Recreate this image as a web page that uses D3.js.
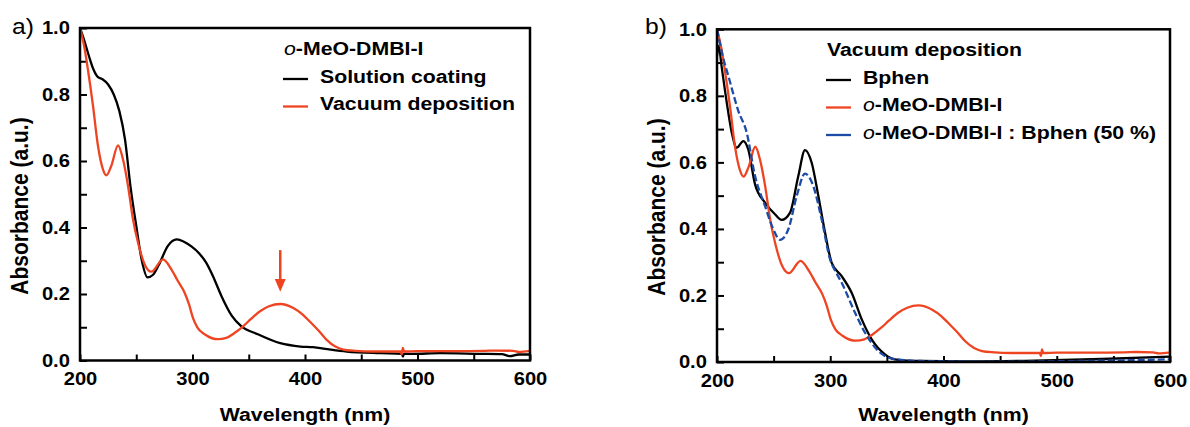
<!DOCTYPE html>
<html>
<head>
<meta charset="utf-8">
<script src="https://cdn.jsdelivr.net/npm/d3@7"></script>
<style>
  body { margin: 0; background: #fff; }
  svg text { font-family: "Liberation Sans", Arial, sans-serif; font-weight: bold; fill: #000; }
  .tick text { font-size: 18px; }
</style>
</head>
<body>
<div id="chart"></div>
<script>
// panel a: o-MeO-DMBI-I, solution coating vs vacuum deposition
const solWl = [200, 204, 208, 212, 216, 220, 225, 230, 235, 240, 245, 250, 255, 260, 265, 270, 278, 286, 292, 299, 306, 312, 318, 326, 335, 343, 358, 378, 396, 407, 420, 437, 467, 486, 487, 488, 496, 520, 556, 575, 582, 590, 600];
const solAbs = [1.0, 0.96, 0.915, 0.875, 0.852, 0.846, 0.83, 0.80, 0.75, 0.665, 0.52, 0.405, 0.30, 0.25, 0.258, 0.287, 0.344, 0.364, 0.358, 0.343, 0.322, 0.295, 0.255, 0.192, 0.134, 0.104, 0.079, 0.052, 0.042, 0.040, 0.034, 0.027, 0.022, 0.020, 0.012, 0.020, 0.020, 0.022, 0.020, 0.019, 0.013, 0.018, 0.018];

const vacWl = [200, 204, 207, 211.6, 216, 220.4, 223.4, 227.8, 233.8, 238.2, 242.7, 247.1, 251.6, 257.5, 263.4, 273.8, 281.2, 287, 293, 297, 300.4, 304.4, 310.8, 322.7, 330, 337, 345, 352, 360, 368, 378, 390, 398, 404, 412, 419, 427, 434, 445, 460, 485, 486, 487, 488, 500, 530, 560, 570, 585, 590, 600];
const vacAbs = [1.0, 0.94, 0.876, 0.765, 0.645, 0.575, 0.557, 0.585, 0.647, 0.605, 0.525, 0.425, 0.354, 0.289, 0.267, 0.304, 0.274, 0.239, 0.204, 0.168, 0.128, 0.099, 0.079, 0.064, 0.068, 0.082, 0.103, 0.125, 0.148, 0.163, 0.170, 0.157, 0.138, 0.118, 0.090, 0.063, 0.042, 0.033, 0.029, 0.027, 0.027, 0.018, 0.038, 0.027, 0.028, 0.028, 0.029, 0.030, 0.029, 0.026, 0.029];

// panel b: vacuum deposition, Bphen and the 50 % blend (o-MeO-DMBI-I reuses vacWl/vacAbs)
const bphenWl = [200, 201.5, 204, 208.6, 213, 217.4, 223.2, 227.6, 233.6, 242.4, 251.2, 257.1, 264.5, 271.8, 277.7, 283.6, 289.5, 295.4, 301.3, 310.1, 318.9, 327.8, 336.6, 348.3, 357, 380, 420, 480, 540, 600];
const bphenAbs = [0.92, 0.95, 0.89, 0.78, 0.69, 0.644, 0.664, 0.639, 0.534, 0.479, 0.444, 0.427, 0.449, 0.559, 0.637, 0.599, 0.499, 0.389, 0.298, 0.258, 0.208, 0.128, 0.068, 0.023, 0.008, 0.003, 0.002, 0.004, 0.009, 0.016];

const mixWl = [200, 205, 210, 218.8, 226.2, 233.6, 242.4, 249.7, 255.6, 263, 270.4, 277.7, 285, 292.4, 299.8, 305, 310.1, 321.9, 330.7, 342.4, 355, 380, 450, 520, 600];
const mixAbs = [1.0, 0.92, 0.86, 0.755, 0.69, 0.559, 0.469, 0.399, 0.367, 0.399, 0.499, 0.566, 0.529, 0.429, 0.309, 0.27, 0.238, 0.148, 0.088, 0.033, 0.01, 0.003, 0.001, 0.003, 0.008];

const xTicks = [200, 250, 300, 350, 400, 450, 500, 550, 600];
const yTicks = [0, 0.1, 0.2, 0.3, 0.4, 0.5, 0.6, 0.7, 0.8, 0.9, 1.0];

const SX = 1.12;   // the reference type is a bit wider than Arial
const orange = '#ee4422';
const blue = '#1d4ca6';

const svg = d3.select('#chart').append('svg')
  .attr('width', 1190)
  .attr('height', 427);

const putText = (g, x, y, size, anchor = 'start') => g.append('text')
  .attr('transform', `translate(${x},${y}) scale(${SX},1)`)
  .attr('font-size', size)
  .attr('text-anchor', anchor);

const italicO = (t, name) => {
  if (name.startsWith('o-')) {
    t.append('tspan').style('font-style', 'italic').style('font-weight', 'normal').text('o');
    t.append('tspan').text(name.slice(1));
  } else t.text(name);
};

const drawPanel = (p) => {
  const x = d3.scaleLinear().domain([200, 600]).range([p.left, p.right]);
  const y = d3.scaleLinear().domain([0, 1]).range([p.bottom, p.top]);
  const g = svg.append('g');

  const xAxis = d3.axisBottom(x)
    .tickValues(xTicks)
    .tickSize(-6).tickSizeOuter(0).tickPadding(12)
    .tickFormat(d => d % 100 === 0 ? d : '');
  const yAxis = d3.axisLeft(y)
    .tickValues(yTicks)
    .tickSize(-7).tickSizeOuter(0).tickPadding(9)
    .tickFormat((d, i) => i % 2 === 0 ? d3.format('.1f')(d) : '');

  [g.append('g').attr('transform', `translate(0,${p.bottom})`).call(xAxis),
   g.append('g').attr('transform', `translate(${p.left},0)`).call(yAxis)].forEach(a => {
    a.select('.domain').remove();
    a.selectAll('.tick line').attr('stroke', '#000').attr('stroke-width', 2);
    a.selectAll('.tick text').attr('fill', '#000').attr('transform', `scale(${SX},1)`);
  });

  const line = d3.line()
    .x(d => x(d[0]))
    .y(d => y(d[1]))
    .curve(d3.curveMonotoneX);

  p.series.forEach(s => {
    g.append('path')
      .datum(d3.zip(s.wl, s.abs))
      .attr('d', line)
      .attr('fill', 'none')
      .attr('stroke', s.color)
      .attr('stroke-width', 2.3)
      .attr('stroke-dasharray', s.dash || null);
  });

  g.append('rect')
    .attr('x', p.left).attr('y', p.top)
    .attr('width', p.right - p.left).attr('height', p.bottom - p.top)
    .attr('fill', 'none').attr('stroke', '#000').attr('stroke-width', 2.5);

  // legend
  const lg = g.append('g');
  italicO(putText(lg, p.legX, p.legY, 19), p.legTitle);
  p.series.forEach((s, i) => {
    const by = p.legY + 27.5 * (i + 1);
    lg.append('line')
      .attr('x1', p.legX - 1).attr('x2', p.legX + 24)
      .attr('y1', by - 3.5).attr('y2', by - 3.5)
      .attr('stroke', s.color).attr('stroke-width', 2.3);
    italicO(putText(lg, p.legX + 36, by, 19), s.name);
  });

  // panel letter and axis titles
  putText(g, p.letterX, 34, 22).style('font-weight', 'normal').text(p.letter);
  putText(g, (p.left + p.right) / 2, 421, 19, 'middle').text('Wavelength (nm)');
  g.append('text')
    .attr('transform', `translate(${p.yTitleX},${p.yTitleY}) scale(${SX},1) rotate(-90)`)
    .attr('font-size', 21)
    .attr('text-anchor', 'middle')
    .attr('dy', '0.35em')
    .text('Absorbance (a.u.)');

  return { x, y, g };
};

const a = drawPanel({
  left: 80, right: 530, top: 28, bottom: 360.5,
  letter: 'a)', letterX: 12, yTitleX: 20, yTitleY: 206,
  legX: 284, legY: 55, legTitle: 'o-MeO-DMBI-I',
  series: [
    { name: 'Solution coating', wl: solWl, abs: solAbs, color: '#000' },
    { name: 'Vacuum deposition', wl: vacWl, abs: vacAbs, color: orange }
  ]
});

drawPanel({
  left: 717, right: 1170, top: 29.3, bottom: 362,
  letter: 'b)', letterX: 645, yTitleX: 657, yTitleY: 207,
  legX: 827, legY: 56, legTitle: 'Vacuum deposition',
  series: [
    { name: 'Bphen', wl: bphenWl, abs: bphenAbs, color: '#000' },
    { name: 'o-MeO-DMBI-I', wl: vacWl, abs: vacAbs, color: orange },
    { name: 'o-MeO-DMBI-I : Bphen (50 %)', wl: mixWl, abs: mixAbs, color: blue, dash: '7,3' }
  ]
});

// arrow marking the 378 nm band in panel a
const ax = a.x(378);
a.g.append('line')
  .attr('x1', ax).attr('x2', ax)
  .attr('y1', a.y(0.332)).attr('y2', a.y(0.24))
  .attr('stroke', orange).attr('stroke-width', 2.5);
a.g.append('path')
  .attr('d', `M${ax - 5.5},${a.y(0.245)} L${ax + 5.5},${a.y(0.245)} L${ax},${a.y(0.207)} Z`)
  .attr('fill', orange);
</script>
</body>
</html>
